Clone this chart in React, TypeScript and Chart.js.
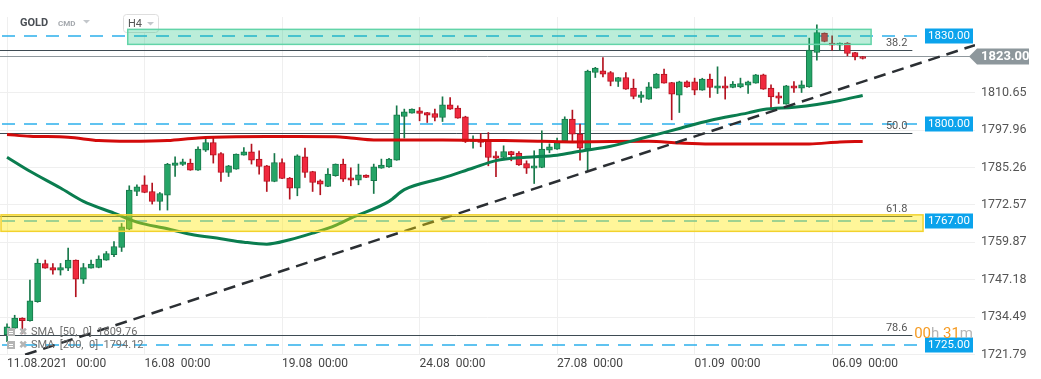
import React, { useEffect, useRef } from 'react';
import { Chart, registerables } from 'chart.js';

Chart.register(...registerables);

// ---------- data ----------
const xTickIndex = [0, 18, 36, 54, 72, 90, 108];
const xTickLabels = ['11.08.2021   00:00', '16.08  00:00', '19.08  00:00', '24.08  00:00', '27.08  00:00', '01.09  00:00', '06.09  00:00'];
const yTicks = [1721.79, 1734.49, 1747.18, 1759.87, 1772.57, 1785.26, 1797.96, 1810.65];

const opens = [
  1728.48, 1730.75, 1734.15, 1733.23, 1739.68, 1752.69, 1751.33, 1750.45, 1751.13, 1753.84,
  1747.39, 1751.13, 1751.33, 1753.84, 1755.64, 1758.12, 1764.37, 1777.14, 1779.41, 1777.14,
  1773.74, 1775.91, 1785.96, 1786.30, 1786.78, 1784.40, 1791.19, 1793.77, 1790.04, 1783.59,
  1784.74, 1789.50, 1790.62, 1788.14, 1785.86, 1780.53, 1786.98, 1781.69, 1778.29, 1788.92,
  1783.93, 1780.77, 1778.83, 1782.47, 1786.44, 1781.79, 1781.01, 1782.70, 1780.77, 1785.08,
  1785.52, 1787.80, 1802.60, 1803.76, 1804.54, 1803.96, 1803.62, 1802.26, 1806.58, 1805.45,
  1802.50, 1794.11, 1794.79, 1794.69, 1789.26, 1788.68, 1790.72, 1790.17, 1786.64, 1785.08,
  1785.28, 1791.19, 1791.53, 1794.35, 1801.72, 1796.63, 1791.70, 1817.54, 1818.12, 1817.54,
  1814.49, 1815.85, 1812.25, 1809.05, 1808.51, 1812.25, 1817.00, 1814.15, 1809.87, 1814.39,
  1814.39, 1811.57, 1815.30, 1812.25, 1813.03, 1812.45, 1812.69, 1813.26, 1813.94, 1816.76,
  1812.25, 1809.63, 1806.81, 1813.03, 1812.25, 1812.69, 1824.33, 1830.92, 1827.53, 1826.85,
  1827.53, 1824.33, 1822.98,
];
const highs = [
  1732.21, 1735.10, 1734.25, 1747.05, 1754.18, 1753.84, 1752.69, 1752.69, 1757.92, 1753.90,
  1752.69, 1753.84, 1755.30, 1756.76, 1760.16, 1766.27, 1779.07, 1779.41, 1782.47, 1779.99,
  1776.80, 1786.70, 1788.92, 1788.14, 1788.14, 1792.31, 1794.93, 1795.27, 1790.38, 1786.00,
  1789.90, 1792.08, 1793.23, 1790.96, 1786.00, 1790.04, 1788.24, 1781.90, 1789.60, 1791.87,
  1784.00, 1781.10, 1784.95, 1786.50, 1788.14, 1785.18, 1786.44, 1782.80, 1786.44, 1788.14,
  1788.40, 1806.24, 1805.12, 1805.20, 1805.66, 1804.00, 1805.12, 1809.29, 1809.05, 1806.24,
  1802.70, 1796.05, 1796.83, 1797.17, 1790.72, 1792.65, 1790.80, 1790.72, 1787.56, 1790.96,
  1797.75, 1793.33, 1795.27, 1802.50, 1804.78, 1800.02, 1818.36, 1819.30, 1822.64, 1817.90,
  1815.90, 1817.54, 1815.30, 1811.09, 1814.15, 1817.20, 1818.70, 1814.20, 1814.60, 1814.72,
  1815.64, 1815.60, 1817.00, 1819.48, 1816.08, 1814.49, 1815.64, 1814.60, 1816.90, 1817.00,
  1813.37, 1810.75, 1813.20, 1814.49, 1814.72, 1829.22, 1833.74, 1831.00, 1830.00, 1827.60,
  1827.70, 1824.40, 1823.00,
];
const lows = [
  1726.10, 1730.51, 1728.82, 1733.06, 1739.50, 1751.06, 1749.09, 1748.75, 1750.21, 1741.38,
  1745.90, 1751.06, 1751.20, 1753.77, 1754.96, 1756.76, 1764.13, 1775.68, 1776.70, 1772.86,
  1770.82, 1770.82, 1782.23, 1785.96, 1784.33, 1784.33, 1790.72, 1786.78, 1780.53, 1782.23,
  1784.67, 1789.43, 1786.44, 1783.04, 1777.14, 1780.43, 1781.45, 1774.55, 1775.68, 1781.89,
  1777.14, 1776.02, 1778.73, 1782.30, 1780.53, 1779.07, 1779.41, 1781.80, 1776.46, 1785.00,
  1785.35, 1787.73, 1795.27, 1803.70, 1801.14, 1800.57, 1801.14, 1800.90, 1805.05, 1802.00,
  1793.77, 1791.87, 1792.31, 1785.86, 1782.13, 1788.60, 1787.56, 1786.00, 1783.25, 1779.85,
  1785.20, 1790.28, 1791.45, 1794.20, 1794.35, 1787.80, 1783.93, 1815.85, 1816.08, 1813.03,
  1812.79, 1811.80, 1808.61, 1807.36, 1808.44, 1812.20, 1813.90, 1801.48, 1803.96, 1812.50,
  1809.97, 1811.50, 1809.05, 1810.41, 1808.51, 1812.35, 1812.35, 1810.41, 1813.90, 1811.80,
  1805.45, 1807.02, 1806.75, 1810.75, 1810.75, 1812.50, 1821.75, 1827.97, 1825.15, 1825.15,
  1823.21, 1821.78, 1822.12,
];
const closes = [
  1731.19, 1734.15, 1733.23, 1740.02, 1752.82, 1751.13, 1750.45, 1751.33, 1753.84, 1747.39,
  1751.33, 1752.48, 1754.18, 1756.08, 1758.46, 1765.15, 1777.61, 1778.73, 1776.80, 1773.74,
  1776.46, 1786.44, 1786.88, 1787.22, 1784.40, 1791.53, 1793.77, 1789.50, 1783.59, 1785.86,
  1789.84, 1790.62, 1787.80, 1785.62, 1780.53, 1786.98, 1781.55, 1778.29, 1789.26, 1783.59,
  1780.19, 1779.65, 1783.04, 1786.44, 1781.35, 1781.01, 1782.81, 1781.89, 1785.52, 1786.10,
  1788.14, 1803.18, 1804.20, 1805.12, 1803.62, 1803.08, 1802.26, 1806.58, 1805.12, 1802.06,
  1794.11, 1794.79, 1793.77, 1788.68, 1788.48, 1790.72, 1789.60, 1786.20, 1785.08, 1785.86,
  1791.53, 1792.31, 1793.77, 1801.72, 1796.63, 1791.87, 1818.02, 1819.04, 1817.00, 1814.55,
  1815.85, 1811.91, 1809.46, 1809.97, 1812.69, 1817.00, 1813.94, 1810.21, 1814.39, 1812.69,
  1811.57, 1815.30, 1812.45, 1813.03, 1812.25, 1813.60, 1813.81, 1814.39, 1816.76, 1811.91,
  1809.29, 1808.85, 1813.03, 1812.25, 1813.37, 1825.15, 1831.13, 1828.07, 1826.85, 1827.53,
  1823.99, 1822.87, 1822.30,
];

const sma50Idx = [0, 3, 7, 10, 14, 17, 21, 24, 28, 31, 34, 37, 40, 43, 45, 50, 52, 57, 61, 64, 68, 72, 75, 79, 83, 88, 92, 97, 99, 103, 106, 109, 112];
const sma50Val = [1788.76, 1783.99, 1778.30, 1773.78, 1769.79, 1766.73, 1764.48, 1762.64, 1761.08, 1759.92, 1759.24, 1760.74, 1762.98, 1765.60, 1768.09, 1773.78, 1777.76, 1781.71, 1785.11, 1787.63, 1788.76, 1789.44, 1790.80, 1792.50, 1795.12, 1798.53, 1801.25, 1803.84, 1805.00, 1805.78, 1806.70, 1808.06, 1809.76];
const sma200Idx = [0, 3, 8, 12, 16, 21, 25, 30, 34, 38, 43, 45, 48, 57, 65, 70, 74, 84, 88, 92, 105, 109, 112];
const sma200Val = [1796.49, 1795.91, 1795.57, 1794.44, 1794.20, 1794.44, 1795.33, 1795.74, 1795.80, 1795.80, 1795.74, 1795.33, 1794.65, 1794.65, 1794.44, 1794.20, 1793.97, 1794.20, 1793.63, 1793.29, 1793.29, 1793.97, 1794.12];
const trendIdx = [0, 126.7];
const trendVal = [1719.7, 1826.85];

const levelPrices = [1830, 1800, 1767, 1725];
const fibNames = ['38.2', '50.0', '61.8', '78.6'];
const fibPrices = [1825.2, 1797.0, 1768.8, 1728.3];
const fibEndIdx = 118.5;
const lastPrice = 1823.0;
const greenZoneIdx = [15.8, 113.1];
const greenZonePrice = [1827.1, 1832.2];
const yellowZoneIdx = [-0.8, 119.9];
const yellowZonePrice = [1763.6, 1769.2];
const smaLegend = ['SMA  [50,  0]  1809.76', 'SMA  [200,  0]  1794.12'];

const X_MIN = -0.92;
const X_MAX = 126.7;
const Y_MIN = 1721.6;
const Y_MAX = 1836.4;

const UP_FILL = '#25a567';
const UP_LINE = '#17784a';
const DN_FILL = '#f0293e';
const DN_LINE = '#b3121f';
const FONT = 'Roboto, "Noto Sans", sans-serif';

const overlay = {
  id: 'overlay',
  beforeDatasetsDraw(chart: any) {
    const { ctx, chartArea: a, scales } = chart;
    const x = scales.x;
    const y = scales.y;
    ctx.save();
    // header
    ctx.textBaseline = 'middle';
    ctx.font = `bold 11px ${FONT}`;
    ctx.fillStyle = '#4a4f55';
    ctx.fillText('GOLD', 20, 23);
    ctx.font = `bold 8px ${FONT}`;
    ctx.fillStyle = '#a4a8ad';
    ctx.fillText('CMD', 58, 24);
    ctx.fillStyle = '#c3c7cb';
    ctx.beginPath(); ctx.moveTo(83, 20); ctx.lineTo(90, 20); ctx.lineTo(86.5, 23.5); ctx.closePath(); ctx.fill();
    ctx.strokeStyle = '#dedede'; ctx.lineWidth = 1; ctx.fillStyle = '#ffffff';
    ctx.beginPath();
    (ctx as any).roundRect(123.5, 14.5, 35, 18, 3);
    ctx.fill(); ctx.stroke();
    ctx.fillStyle = '#555'; ctx.font = `11px ${FONT}`;
    ctx.fillText('H4', 128, 24);
    ctx.fillStyle = '#c3c7cb';
    ctx.beginPath(); ctx.moveTo(147, 22); ctx.lineTo(154, 22); ctx.lineTo(150.5, 25.5); ctx.closePath(); ctx.fill();

    ctx.beginPath(); ctx.rect(a.left, a.top, a.right - a.left, a.bottom - a.top); ctx.clip();
    // fib lines
    const fibEnd = x.getPixelForValue(fibEndIdx);
    ctx.strokeStyle = '#3e4b53'; ctx.lineWidth = 1;
    fibPrices.forEach((p) => {
      const py = Math.round(y.getPixelForValue(p)) + 0.5;
      ctx.beginPath(); ctx.moveTo(a.left, py); ctx.lineTo(fibEnd, py); ctx.stroke();
    });
    // last price line
    const lp = Math.round(y.getPixelForValue(lastPrice)) + 0.5;
    ctx.strokeStyle = '#8f989d';
    ctx.beginPath(); ctx.moveTo(a.left, lp); ctx.lineTo(a.right, lp); ctx.stroke();
    // dashed level lines
    ctx.strokeStyle = '#2cb0ec'; ctx.lineWidth = 1.5; ctx.setLineDash([13, 9]);
    levelPrices.forEach((p) => {
      const py = Math.round(y.getPixelForValue(p));
      ctx.beginPath(); ctx.moveTo(a.left + 2, py); ctx.lineTo(a.right - 50, py); ctx.stroke();
    });
    ctx.setLineDash([]);
    ctx.restore();
  },
  afterDatasetsDraw(chart: any) {
    const { ctx, chartArea: a, scales } = chart;
    const x = scales.x;
    const y = scales.y;
    ctx.save();
    // zones
    const drawZone = (idx: number[], pr: number[], fill: string, stroke: string) => {
      const x0 = Math.max(a.left + 1, x.getPixelForValue(idx[0]));
      const x1 = x.getPixelForValue(idx[1]);
      const y0 = y.getPixelForValue(pr[1]);
      const y1 = y.getPixelForValue(pr[0]);
      ctx.fillStyle = fill;
      ctx.fillRect(x0, y0, x1 - x0, y1 - y0);
      ctx.strokeStyle = stroke; ctx.lineWidth = 1.5;
      ctx.strokeRect(x0, y0, x1 - x0, y1 - y0);
    };
    drawZone(greenZoneIdx, greenZonePrice, 'rgba(10,190,120,0.28)', '#62d4a8');
    drawZone(yellowZoneIdx, yellowZonePrice, 'rgba(255,232,0,0.40)', '#f2d22e');

    // fib labels
    const fibEnd = x.getPixelForValue(fibEndIdx);
    ctx.font = `11px ${FONT}`; ctx.fillStyle = '#555'; ctx.textAlign = 'right'; ctx.textBaseline = 'alphabetic';
    fibPrices.forEach((p, i) => {
      const py = y.getPixelForValue(p);
      ctx.fillText(fibNames[i], fibEnd - 5, py - 4);
    });

    // level labels
    ctx.textAlign = 'center'; ctx.textBaseline = 'middle';
    levelPrices.forEach((p) => {
      const py = Math.round(y.getPixelForValue(p));
      ctx.fillStyle = '#0ba3ec';
      ctx.fillRect(a.right - 50, py - 7.5, 48, 15);
      ctx.fillStyle = '#ffffff'; ctx.font = `11.5px ${FONT}`;
      ctx.fillText(p.toFixed(2), a.right - 26, py + 0.5);
    });

    // last price arrow label
    const lp = Math.round(y.getPixelForValue(lastPrice)) + 0.5;
    ctx.fillStyle = '#8d979c';
    ctx.beginPath();
    ctx.moveTo(a.right - 6, lp);
    ctx.lineTo(a.right + 2, lp - 8);
    ctx.lineTo(a.right + 54, lp - 8);
    ctx.lineTo(a.right + 54, lp + 8);
    ctx.lineTo(a.right + 2, lp + 8);
    ctx.closePath(); ctx.fill();
    ctx.fillStyle = '#ffffff'; ctx.font = `bold 13px ${FONT}`; ctx.textAlign = 'left';
    ctx.fillText(lastPrice.toFixed(2), a.right + 6, lp + 0.5);

    // countdown
    const cy = y.getPixelForValue(1725) - 11;
    const parts: [string, string][] = [['00', '#f59b23'], ['h', '#b5b5b5'], [' 31', '#f59b23'], ['m', '#b5b5b5']];
    ctx.font = `15px ${FONT}`;
    let total = 0;
    parts.forEach(([t]) => { total += ctx.measureText(t).width; });
    let cx = a.right - 2 - total;
    parts.forEach(([t, c]) => { ctx.fillStyle = c; ctx.fillText(t, cx, cy); cx += ctx.measureText(t).width; });

    // SMA legend
    smaLegend.forEach((t, i) => {
      const ly = a.bottom - 23 + i * 13;
      ctx.fillStyle = '#b4b4b4';
      ctx.fillRect(a.left + 7, ly - 4, 8, 8);
      ctx.fillStyle = '#ffffff';
      ctx.fillRect(a.left + 9, ly - 1, 4, 1);
      ctx.fillRect(a.left + 9, ly + 1, 4, 1);
      ctx.fillStyle = '#b4b4b4'; ctx.font = `bold 10px ${FONT}`;
      ctx.fillText('\u2716', a.left + 19, ly);
      ctx.fillStyle = '#6e6e6e'; ctx.font = `11px ${FONT}`;
      ctx.fillText(t, a.left + 31, ly);
    });
    ctx.restore();
  },
};

export default function App() {
  const ref = useRef<HTMLCanvasElement | null>(null);
  useEffect(() => {
    if (!ref.current) return;
    const idx = closes.map((_, i) => i);
    const up = closes.map((c, i) => c >= opens[i]);
    const chart = new Chart(ref.current, {
      type: 'bar',
      data: {
        datasets: [
          {
            type: 'line', label: 'trend', order: -3,
            data: trendIdx.map((v, i) => ({ x: v, y: trendVal[i] })),
            borderColor: '#2b2f33', borderWidth: 2.5, borderDash: [12, 7], pointRadius: 0,
          },
          {
            type: 'line', label: 'SMA50', order: -2,
            data: sma50Idx.map((v, i) => ({ x: v, y: sma50Val[i] })),
            borderColor: '#0a7d4f', borderWidth: 3, pointRadius: 0, cubicInterpolationMode: 'monotone',
          },
          {
            type: 'line', label: 'SMA200', order: -1,
            data: sma200Idx.map((v, i) => ({ x: v, y: sma200Val[i] })),
            borderColor: '#d30b0b', borderWidth: 3, pointRadius: 0, cubicInterpolationMode: 'monotone',
          },
          {
            type: 'bar', label: 'body', order: 0, grouped: false,
            data: idx.map((i) => ({ x: i, y: [opens[i], closes[i]] })),
            backgroundColor: up.map((u) => (u ? UP_FILL : DN_FILL)),
            borderColor: up.map((u) => (u ? UP_LINE : DN_LINE)),
            borderWidth: 1, borderSkipped: false, barThickness: 6, minBarLength: 2,
          },
          {
            type: 'bar', label: 'wick', order: 1, grouped: false,
            data: idx.map((i) => ({ x: i, y: [lows[i], highs[i]] })),
            backgroundColor: up.map((u) => (u ? UP_LINE : DN_LINE)),
            borderWidth: 0, barThickness: 1,
          },
        ] as any,
      },
      options: {
        responsive: false,
        animation: false,
        layout: { padding: { top: 17, left: 0, right: 0, bottom: 0 } },
        plugins: { legend: { display: false }, tooltip: { enabled: false } },
        scales: {
          x: {
            type: 'linear', min: X_MIN, max: X_MAX, offset: false,
            grid: { color: '#efefef', drawTicks: false, offset: false },
            border: { display: false },
            afterBuildTicks: (s: any) => { s.ticks = xTickIndex.map((v) => ({ value: v })); },
            afterFit: (s: any) => { s.height = 24; },
            ticks: {
              align: 'start', padding: 2, maxRotation: 0, autoSkip: false, color: '#444',
              font: { family: FONT, size: 12 },
              callback: (v: any) => { const k = xTickIndex.indexOf(Number(v)); return k >= 0 ? xTickLabels[k] : ''; },
            },
          },
          y: {
            position: 'right', min: Y_MIN, max: Y_MAX,
            grid: { color: '#efefef', drawTicks: false },
            border: { display: false },
            afterBuildTicks: (s: any) => { s.ticks = yTicks.map((v) => ({ value: v })); },
            afterFit: (s: any) => { s.width = 66; },
            ticks: {
              padding: 6, color: '#555', font: { family: FONT, size: 12.5 },
              callback: (v: any) => Number(v).toFixed(2),
            },
          },
        },
      } as any,
      plugins: [overlay],
    });
    return () => chart.destroy();
  }, []);
  return (
    <div style={{ position: 'absolute', left: 0, top: 0, width: 1041, height: 379, background: '#fff' }}>
      <canvas ref={ref} width={1041} height={379} />
    </div>
  );
}
